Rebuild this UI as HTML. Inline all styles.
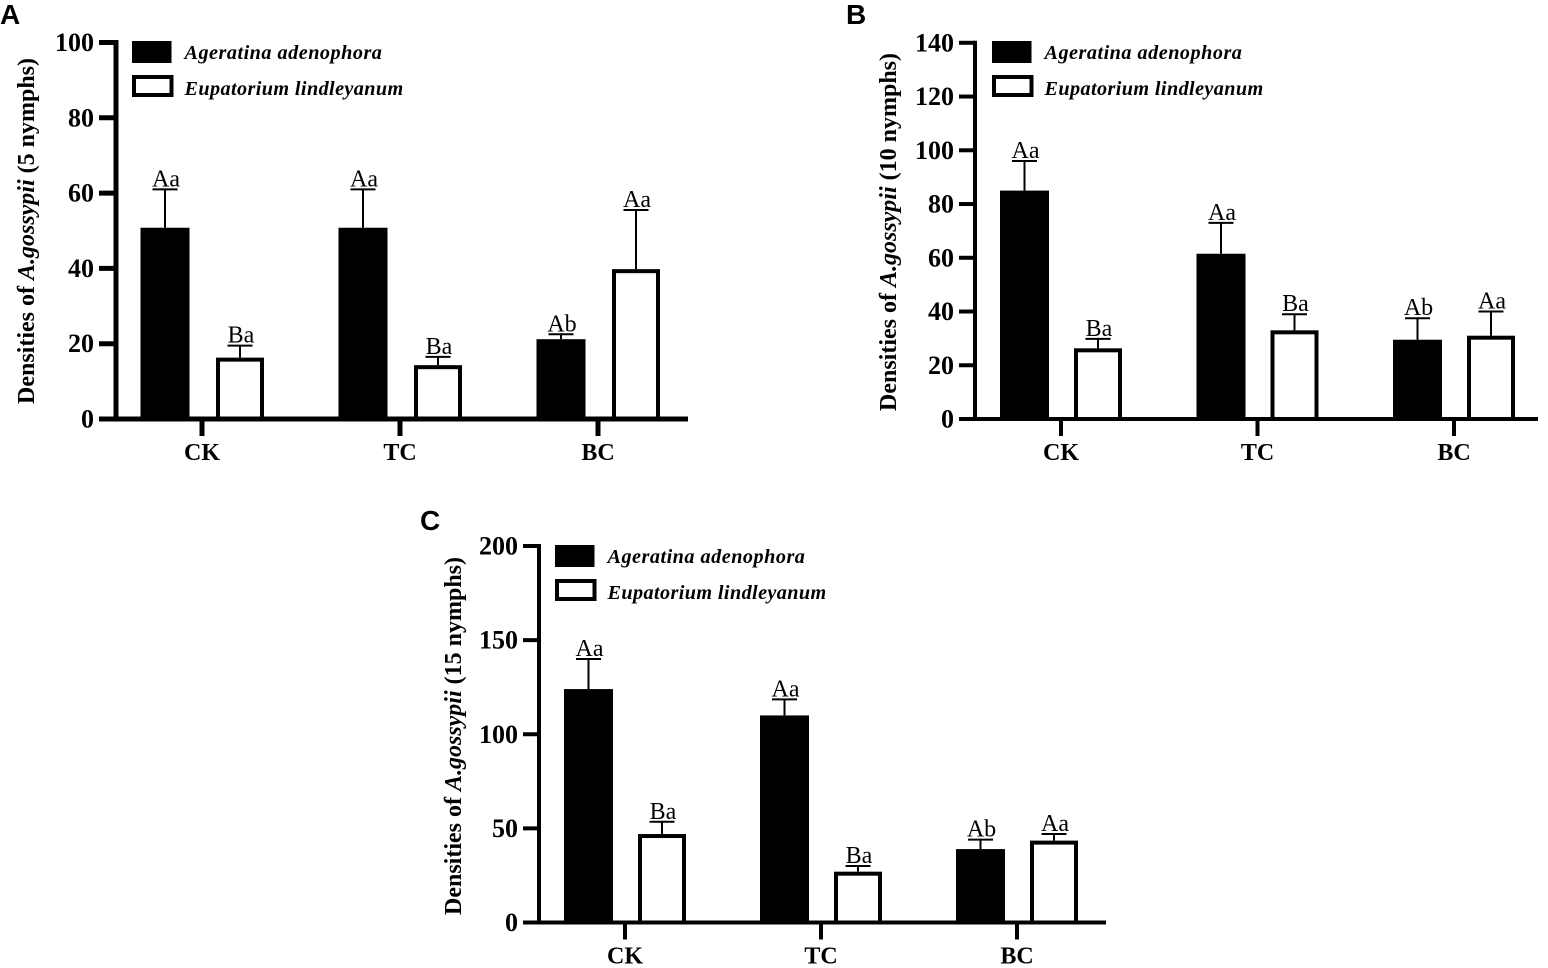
<!DOCTYPE html>
<html lang="en">
<head>
<meta charset="utf-8">
<title>Densities of A. gossypii on two plant species</title>
<style>
html,body{margin:0;padding:0;background:#fff;}
svg{display:block;}
text{font-family:"Liberation Serif",serif;fill:#000;}
.tick{font-weight:bold;font-size:26px;}
.cat{font-weight:bold;font-size:24px;}
.leg{font-weight:bold;font-style:italic;font-size:20.2px;letter-spacing:.4px;}
.leg-first{letter-spacing:.5px;}
.ytitle{font-weight:bold;font-size:24px;}
.sig{font-size:24px;}
.panel{font-family:"Liberation Sans",sans-serif;font-weight:bold;font-size:28px;}
</style>
</head>
<body>
<svg id="chart" xmlns="http://www.w3.org/2000/svg" width="1548" height="968" viewBox="0 0 1548 968"></svg>
<script>
const categories = ['CK', 'TC', 'BC'];
const seriesNames = ['Ageratina adenophora', 'Eupatorium lindleyanum'];

const aTicks = [0, 20, 40, 60, 80, 100];
const aAgeratina = [50.8, 50.8, 21.2];
const aAgeratinaErr = [10.2, 10.2, 1.3];
const aEupatorium = [16.3, 14.3, 39.8];
const aEupatoriumErr = [3.2, 2.2, 15.7];
const aAgeratinaSig = ['Aa', 'Aa', 'Ab'];
const aEupatoriumSig = ['Ba', 'Ba', 'Aa'];

const bTicks = [0, 20, 40, 60, 80, 100, 120, 140];
const bAgeratina = [85, 61.5, 29.5];
const bAgeratinaErr = [11, 11.5, 8];
const bEupatorium = [26.3, 33, 31];
const bEupatoriumErr = [3.5, 6, 9];
const bAgeratinaSig = ['Aa', 'Aa', 'Ab'];
const bEupatoriumSig = ['Ba', 'Ba', 'Aa'];

const cTicks = [0, 50, 100, 150, 200];
const cAgeratina = [124, 110, 39];
const cAgeratinaErr = [16, 8.5, 5];
const cEupatorium = [47, 27, 43.5];
const cEupatoriumErr = [6.5, 3, 3.5];
const cAgeratinaSig = ['Aa', 'Aa', 'Ab'];
const cEupatoriumSig = ['Ba', 'Ba', 'Aa'];

const NS = 'http://www.w3.org/2000/svg';
const root = document.getElementById('chart');

function mk(parent, tag, attrs, txt) {
  const el = document.createElementNS(NS, tag);
  for (const k in attrs) el.setAttribute(k, attrs[k]);
  if (txt !== undefined) el.textContent = txt;
  parent.appendChild(el);
  return el;
}

function drawPanel(cfg) {
  const g = mk(root, 'g', {});
  
  

  const yScale = v => cfg.y0 - (v / cfg.ticks[cfg.ticks.length - 1]) * (cfg.y0 - cfg.yTop);
  const catX = i => cfg.cat0 + i * cfg.catStep;

  const letter = mk(g, 'text', {x: cfg.letterX, y: cfg.letterY, class: 'panel'}, cfg.letter);
  
  

  const title = mk(g, 'text', {
    class: 'ytitle', 'text-anchor': 'middle',
    transform: 'translate(' + cfg.titleX + ',' + cfg.titleY + ') rotate(-90)'
  });
  
  
  mk(title, 'tspan', {}, 'Densities of ');
  mk(title, 'tspan', {'font-style': 'italic'}, 'A.gossypii');
  mk(title, 'tspan', {}, ' (' + cfg.nymphs + ' nymphs)');

  // bars and error bars
  const series = [
    {vals: cfg.black, errs: cfg.blackErr, sig: cfg.blackSig, dx: cfg.blackDx, filled: true, key: 'ageratina'},
    {vals: cfg.white, errs: cfg.whiteErr, sig: cfg.whiteSig, dx: cfg.whiteDx, filled: false, key: 'eupatorium'}
  ];
  series.forEach(s => {
    s.vals.forEach((v, i) => {
      const cx = catX(i) + s.dx;
      const top = yScale(v);
      const errTop = yScale(v + s.errs[i]);
      const err = mk(g, 'path', {
        d: 'M' + cx + ' ' + top + 'V' + errTop + 'M' + (cx - 12.5) + ' ' + errTop + 'H' + (cx + 12.5),
        fill: 'none', stroke: '#000', 'stroke-width': 2
      });
      
      
      const bar = s.filled
        ? mk(g, 'rect', {x: cx - 24.5, y: top, width: 49, height: cfg.y0 - top, fill: '#000'})
        : mk(g, 'rect', {x: cx - 22, y: top + 2, width: 44, height: cfg.y0 - top - 2, fill: '#fff', stroke: '#000', 'stroke-width': 4});
      
      
      const sig = mk(g, 'text', {x: cx + 1, y: errTop - 3, class: 'sig', 'text-anchor': 'middle'}, s.sig[i]);
      
      
    });
  });

  // y axis
  const yAxis = mk(g, 'line', {x1: cfg.axisX, x2: cfg.axisX, y1: cfg.yTop - cfg.sw / 2, y2: cfg.y0 + cfg.sw / 2, stroke: '#000', 'stroke-width': cfg.sw});
  
  
  cfg.ticks.forEach(t => {
    const y = yScale(t);
    const tk = mk(g, 'line', {x1: cfg.tickX, x2: cfg.axisX, y1: y, y2: y, stroke: '#000', 'stroke-width': cfg.sw});
    
    
    const lab = mk(g, 'text', {x: cfg.tickX - 5, y: y + 8.5, class: 'tick', 'text-anchor': 'end'}, t);
    
    
  });

  // x axis
  const xAxis = mk(g, 'line', {x1: cfg.tickX, x2: cfg.xEnd, y1: cfg.y0, y2: cfg.y0, stroke: '#000', 'stroke-width': cfg.sw});
  
  
  categories.forEach((c, i) => {
    const tk = mk(g, 'line', {x1: catX(i), x2: catX(i), y1: cfg.y0, y2: cfg.y0 + 17, stroke: '#000', 'stroke-width': cfg.sw});
    
    
    const lab = mk(g, 'text', {x: catX(i), y: cfg.y0 + 41, class: 'cat', 'text-anchor': 'middle'}, c);
    
    
  });

  // legend
  const swatchA = mk(g, 'rect', {x: cfg.legX, y: cfg.legY, width: 39.5, height: 22, fill: '#000'});
  
  
  const textA = mk(g, 'text', {x: cfg.legX + 52.5, y: cfg.legY + 18, class: 'leg leg-first'}, seriesNames[0]);
  
  
  const swatchB = mk(g, 'rect', {x: cfg.legX + 2, y: cfg.legY + 36, width: 37.5, height: 18, fill: '#fff', stroke: '#000', 'stroke-width': 4});
  
  
  const textB = mk(g, 'text', {x: cfg.legX + 52.5, y: cfg.legY + 54, class: 'leg'}, seriesNames[1]);
  
  
}

drawPanel({
  letter: 'A', letterX: 0, letterY: 24, nymphs: 5,
  ticks: aTicks, black: aAgeratina, blackErr: aAgeratinaErr, white: aEupatorium, whiteErr: aEupatoriumErr,
  blackSig: aAgeratinaSig, whiteSig: aEupatoriumSig,
  y0: 419, yTop: 42.5, axisX: 116, tickX: 99, xEnd: 688, sw: 5,
  cat0: 202, catStep: 198, blackDx: -37, whiteDx: 38,
  titleX: 34, titleY: 231, legX: 132, legY: 41
});
drawPanel({
  letter: 'B', letterX: 846, letterY: 24, nymphs: 10,
  ticks: bTicks, black: bAgeratina, blackErr: bAgeratinaErr, white: bEupatorium, whiteErr: bEupatoriumErr,
  blackSig: bAgeratinaSig, whiteSig: bEupatoriumSig,
  y0: 419, yTop: 42.8, axisX: 975, tickX: 959, xEnd: 1538, sw: 4,
  cat0: 1061, catStep: 196.5, blackDx: -36.5, whiteDx: 37,
  titleX: 896, titleY: 232, legX: 992, legY: 41
});
drawPanel({
  letter: 'C', letterX: 420, letterY: 530, nymphs: 15,
  ticks: cTicks, black: cAgeratina, blackErr: cAgeratinaErr, white: cEupatorium, whiteErr: cEupatoriumErr,
  blackSig: cAgeratinaSig, whiteSig: cEupatoriumSig,
  y0: 922.5, yTop: 546, axisX: 539, tickX: 523, xEnd: 1106, sw: 4,
  cat0: 625, catStep: 196, blackDx: -36.5, whiteDx: 37,
  titleX: 461, titleY: 736, legX: 555, legY: 545
});
</script>
</body>
</html>
